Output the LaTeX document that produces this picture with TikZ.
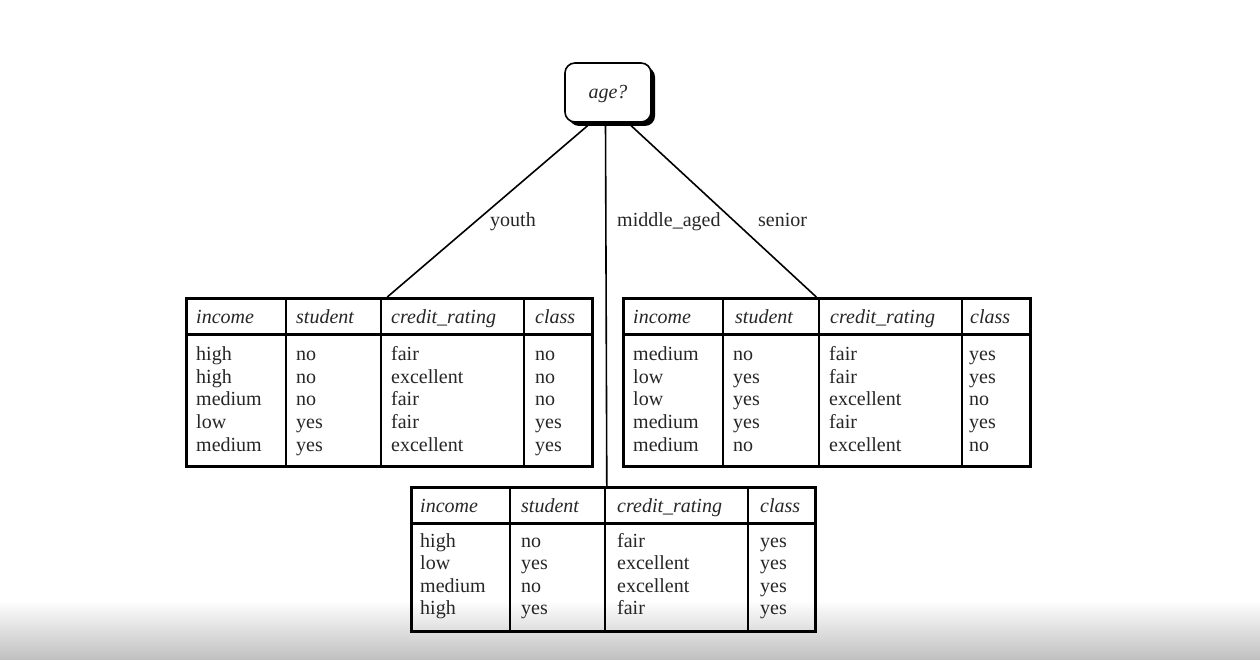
\documentclass[tikz,border=0pt]{standalone}
\usepackage{fontspec}
\setmainfont{Liberation Serif}
\usetikzlibrary{shadows}
\newcommand\tfont{\fontsize{20}{22.5}\selectfont}
\begin{document}
\begin{tikzpicture}[x=1pt,y=-1pt,
  cell/.style={anchor=base west,inner sep=0pt,font=\tfont,text=black!85},
  hcell/.style={cell,font=\tfont\itshape},
  lbl/.style={anchor=base west,inner sep=0pt,font=\tfont,text=black!85},
  tablebox/.style={draw,line width=2.6pt,anchor=north west,inner sep=0pt},
  colline/.style={line width=2pt},
  hline/.style={line width=3pt},
  branch/.style={line width=1.6pt},
  rootbox/.style={draw,line width=1.6pt,rounded corners=10pt,fill=white,
    minimum width=86pt,minimum height=59pt,font=\tfont\itshape,text=black!85,
    text depth=0pt,text height=13pt,
    drop shadow={shadow xshift=4pt,shadow yshift=-4pt,opacity=1,fill=black}}]
\useasboundingbox (0,0) rectangle (1260,660);
\fill[white] (0,0) rectangle (1260,660);
\shade[top color=white,bottom color=black!25] (0,600) rectangle (1260,660);

% root
\node[rootbox] (root) at (608,92.5) {age?};

% tables
\node[tablebox,minimum width=406pt,minimum height=168pt] (youth) at (185,297) {};
\node[tablebox,minimum width=407pt,minimum height=168pt] (senior) at (622,297) {};
\node[tablebox,minimum width=404pt,minimum height=144pt] (mid) at (410,486) {};

% branches
\draw[branch] ([xshift=-17pt]root.south) -- ([xshift=-2pt]youth.north);
\draw[branch] ([xshift=-2.5pt]root.south) -- ([xshift=-6.5pt]mid.north);
\draw[branch] ([xshift=20pt]root.south) -- ([xshift=-10.5pt]senior.north);

\node[lbl] (lyouth) at (490,227) {youth};
\node[lbl] (lmid) at (617,227) {middle\_aged};
\node[lbl] (lsenior) at (758,227) {senior};

% youth table lines
\draw[hline] (185,334) -- (591,334);
\foreach \x in {286,381,524} \draw[colline] (\x,297) -- (\x,465);
\node[hcell] (Yh1) at (196,323) {income};
\node[hcell] (Yh2) at (296,323) {student};
\node[hcell] (Yh3) at (391,323) {credit\_rating};
\node[hcell] (Yh4) at (535,323) {class};
\foreach \y/\a/\b/\c/\d [count=\i] in {360/high/no/fair/no,383/high/no/excellent/no,405.5/medium/no/fair/no,428/low/yes/fair/yes,451/medium/yes/excellent/yes}{
  \node[cell] (Y\i a) at (196,\y) {\a};
  \node[cell] (Y\i b) at (296,\y) {\b};
  \node[cell] (Y\i c) at (391,\y) {\c};
  \node[cell] (Y\i d) at (535,\y) {\d};
}

% senior table lines
\draw[hline] (622,334) -- (1029,334);
\foreach \x in {723,819,962} \draw[colline] (\x,297) -- (\x,465);
\node[hcell] (Sh1) at (633,323) {income};
\node[hcell] (Sh2) at (735,323) {student};
\node[hcell] (Sh3) at (830,323) {credit\_rating};
\node[hcell] (Sh4) at (970,323) {class};
\foreach \y/\a/\b/\c/\d [count=\i] in {360/medium/no/fair/yes,383/low/yes/fair/yes,405.5/low/yes/excellent/no,428/medium/yes/fair/yes,451/medium/no/excellent/no}{
  \node[cell] (S\i a) at (633,\y) {\a};
  \node[cell] (S\i b) at (733,\y) {\b};
  \node[cell] (S\i c) at (829,\y) {\c};
  \node[cell] (S\i d) at (969,\y) {\d};
}

% middle table lines
\draw[hline] (410,523) -- (814,523);
\foreach \x in {510,605,748} \draw[colline] (\x,486) -- (\x,630);
\node[hcell] (Mh1) at (420,512) {income};
\node[hcell] (Mh2) at (521,512) {student};
\node[hcell] (Mh3) at (617,512) {credit\_rating};
\node[hcell] (Mh4) at (760,512) {class};
\foreach \y/\a/\b/\c/\d [count=\i] in {547/high/no/fair/yes,569.5/low/yes/excellent/yes,592/medium/no/excellent/yes,614/high/yes/fair/yes}{
  \node[cell] (M\i a) at (420,\y) {\a};
  \node[cell] (M\i b) at (521,\y) {\b};
  \node[cell] (M\i c) at (617,\y) {\c};
  \node[cell] (M\i d) at (760,\y) {\d};
}
\end{tikzpicture}
\end{document}
